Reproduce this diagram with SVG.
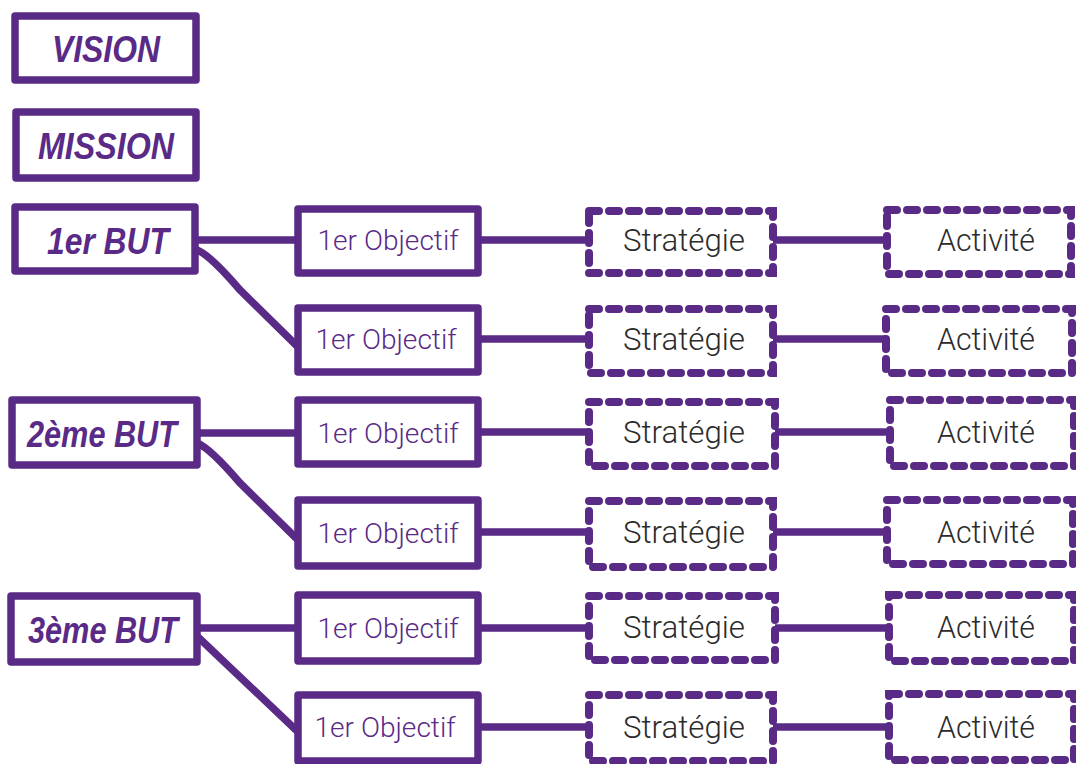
<svg xmlns="http://www.w3.org/2000/svg" width="1076" height="764" viewBox="0 0 1076 764">
<style>
.solid{fill:#fff;stroke:#5a2a87;stroke-width:7.5;stroke-linejoin:round}
.dash{fill:#fff;stroke:#5a2a87;stroke-width:8;stroke-dasharray:10 10;stroke-linecap:round}
.ttl{font-family:"Liberation Sans",Arial,sans-serif;font-weight:bold;font-style:italic;fill:#5a2a87;font-size:37px;text-anchor:middle}
.obj{font-family:Roboto,"Liberation Sans",Arial,sans-serif;font-weight:300;fill:#5a2a87;font-size:28px;text-anchor:middle}
.st{font-family:Roboto,"Liberation Sans",Arial,sans-serif;font-weight:300;fill:#2b2b2b;font-size:31px;text-anchor:middle}
.ln{fill:none;stroke:#5a2a87;stroke-width:7.5;stroke-linecap:round}
</style>
<rect width="1076" height="764" fill="#fff"/>
<g id="connectors">
<path class="ln" d="M197 240 H296"/><path class="ln" d="M197 250 Q210 255 240 290 L296 345"/>
<path class="ln" d="M197 433 H296"/><path class="ln" d="M197 443 Q210 448 240 483 L296 538"/>
<path class="ln" d="M199 628 H296"/><path class="ln" d="M199 638 L296 730"/>
<path class="ln" d="M480 240 H587"/><path class="ln" d="M480 339 H587"/><path class="ln" d="M480 432 H587"/><path class="ln" d="M480 532 H587"/><path class="ln" d="M480 628 H587"/><path class="ln" d="M480 727 H587"/>
<path class="ln" d="M775 240 H885"/><path class="ln" d="M775 339 H885"/><path class="ln" d="M775 432 H885"/><path class="ln" d="M775 532 H885"/><path class="ln" d="M775 628 H885"/><path class="ln" d="M775 727 H885"/>
</g>
<g id="vision"><rect class="solid" x="15" y="16" width="181" height="64"/><text class="ttl" x="106" y="62" textLength="108" lengthAdjust="spacingAndGlyphs">VISION</text></g>
<g id="mission"><rect class="solid" x="16" y="112" width="180" height="66"/><text class="ttl" x="106" y="159" textLength="136" lengthAdjust="spacingAndGlyphs">MISSION</text></g>
<g id="but1"><rect class="solid" x="15" y="207" width="180" height="64"/><text class="ttl" x="108" y="254" textLength="122" lengthAdjust="spacingAndGlyphs">1er BUT</text></g>
<g id="but2"><rect class="solid" x="12" y="400" width="185" height="65"/><text class="ttl" x="102" y="447" textLength="150" lengthAdjust="spacingAndGlyphs">2ème BUT</text></g>
<g id="but3"><rect class="solid" x="11" y="596" width="186" height="66"/><text class="ttl" x="103" y="643" textLength="150" lengthAdjust="spacingAndGlyphs">3ème BUT</text></g>
<g id="obj1"><rect class="solid" x="298" y="209" width="180" height="64"/><text class="obj" x="388" y="250" textLength="141" lengthAdjust="spacingAndGlyphs">1er Objectif</text></g>
<g id="obj2"><rect class="solid" x="298" y="308" width="180" height="64"/><text class="obj" x="386" y="349" textLength="141" lengthAdjust="spacingAndGlyphs">1er Objectif</text></g>
<g id="obj3"><rect class="solid" x="298" y="400" width="180" height="64"/><text class="obj" x="388" y="443" textLength="141" lengthAdjust="spacingAndGlyphs">1er Objectif</text></g>
<g id="obj4"><rect class="solid" x="298" y="500" width="180" height="66"/><text class="obj" x="388" y="543" textLength="141" lengthAdjust="spacingAndGlyphs">1er Objectif</text></g>
<g id="obj5"><rect class="solid" x="298" y="595" width="180" height="66"/><text class="obj" x="388" y="638" textLength="141" lengthAdjust="spacingAndGlyphs">1er Objectif</text></g>
<g id="obj6"><rect class="solid" x="298" y="695" width="180" height="66"/><text class="obj" x="385" y="737" textLength="141" lengthAdjust="spacingAndGlyphs">1er Objectif</text></g>
<g id="str1"><rect class="dash" x="589" y="211" width="184" height="62"/><text class="st" x="684" y="251" textLength="122" lengthAdjust="spacingAndGlyphs">Stratégie</text></g>
<g id="str2"><rect class="dash" x="589" y="309" width="184" height="64"/><text class="st" x="684" y="350" textLength="122" lengthAdjust="spacingAndGlyphs">Stratégie</text></g>
<g id="str3"><rect class="dash" x="589" y="402" width="186" height="64"/><text class="st" x="684" y="443" textLength="122" lengthAdjust="spacingAndGlyphs">Stratégie</text></g>
<g id="str4"><rect class="dash" x="589" y="501" width="184" height="66"/><text class="st" x="684" y="543" textLength="122" lengthAdjust="spacingAndGlyphs">Stratégie</text></g>
<g id="str5"><rect class="dash" x="589" y="596" width="186" height="64"/><text class="st" x="684" y="638" textLength="122" lengthAdjust="spacingAndGlyphs">Stratégie</text></g>
<g id="str6"><rect class="dash" x="589" y="695" width="184" height="66"/><text class="st" x="684" y="738" textLength="122" lengthAdjust="spacingAndGlyphs">Stratégie</text></g>
<g id="act1"><rect class="dash" x="887" y="210" width="184" height="64"/><text class="st" x="986" y="251" textLength="98" lengthAdjust="spacingAndGlyphs">Activité</text></g>
<g id="act2"><rect class="dash" x="886" y="309" width="186" height="64"/><text class="st" x="986" y="350" textLength="98" lengthAdjust="spacingAndGlyphs">Activité</text></g>
<g id="act3"><rect class="dash" x="890" y="400" width="184" height="66"/><text class="st" x="986" y="443" textLength="98" lengthAdjust="spacingAndGlyphs">Activité</text></g>
<g id="act4"><rect class="dash" x="887" y="500" width="186" height="64"/><text class="st" x="986" y="543" textLength="98" lengthAdjust="spacingAndGlyphs">Activité</text></g>
<g id="act5"><rect class="dash" x="889" y="595" width="185" height="66"/><text class="st" x="986" y="638" textLength="98" lengthAdjust="spacingAndGlyphs">Activité</text></g>
<g id="act6"><rect class="dash" x="889" y="694" width="185" height="66"/><text class="st" x="986" y="738" textLength="98" lengthAdjust="spacingAndGlyphs">Activité</text></g>
</svg>
